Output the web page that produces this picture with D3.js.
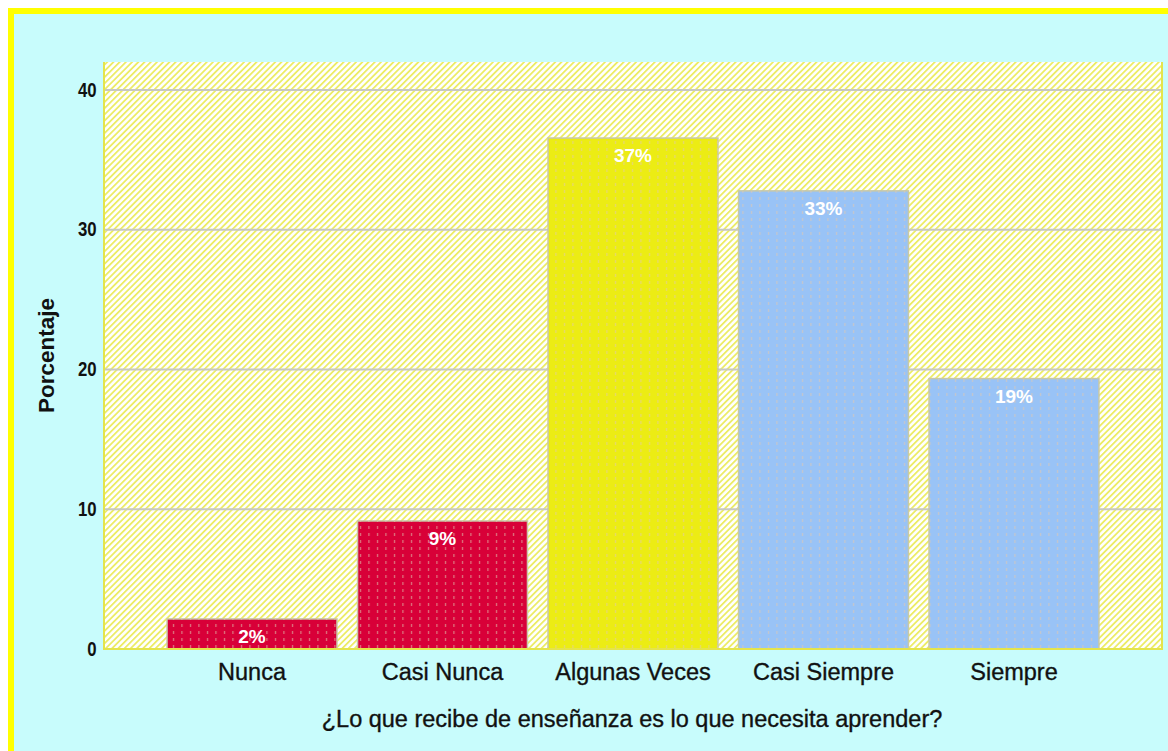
<!DOCTYPE html>
<html>
<head>
<meta charset="utf-8">
<script src="https://cdn.jsdelivr.net/npm/d3@7"></script>
<style>
  body { margin: 0; background: #fff; }
  svg { display: block; }
</style>
</head>
<body>
<svg id="chart"></svg>
<script>
// Data
const categories = ["Nunca", "Casi Nunca", "Algunas Veces", "Casi Siempre", "Siempre"];
const percentages = [2.15, 9.16, 36.56, 32.78, 19.35];
const barLabels = ["2%", "9%", "37%", "33%", "19%"];
const barColors = ["#d80038", "#d80038", "#ecec14", "#99c3f6", "#99c3f6"];
const yTicks = [0, 10, 20, 30, 40];

const width = 1168;
const height = 751;
const plot = { left: 104, right: 1162, top: 62, bottom: 649 };

const svg = d3.select("#chart")
    .attr("width", width)
    .attr("height", height);

// Patterns: diagonal hatching for the plot area and dotted marks on bars
const defs = svg.append("defs");
const hatch = defs.append("pattern")
    .attr("id", "hatch")
    .attr("patternUnits", "userSpaceOnUse")
    .attr("width", 4.4)
    .attr("height", 4.4)
    .attr("patternTransform", "rotate(45)");
hatch.append("rect").attr("width", 4.4).attr("height", 4.4).attr("fill", "#ffffff");
hatch.append("rect").attr("x", 0).attr("width", 1.8).attr("height", 4.4).attr("fill", "#ecec66");

const dots = defs.append("pattern")
    .attr("id", "dots")
    .attr("patternUnits", "userSpaceOnUse")
    .attr("width", 8.5)
    .attr("height", 7);
dots.append("rect")
    .attr("x", 3).attr("y", 1)
    .attr("width", 1).attr("height", 3)
    .attr("fill", "#e0c8b0")
    .attr("opacity", 0.75);

// Background and frame
svg.append("rect")
    .attr("x", 11).attr("y", 11)
    .attr("width", width + 20).attr("height", height + 20)
    .attr("fill", "#c8fcfc")
    .attr("stroke", "#ffff00")
    .attr("stroke-width", 6);

// Scales
const x = d3.scaleBand()
    .domain(categories)
    .range([plot.left, plot.right])
    .paddingInner(0.108)
    .paddingOuter(0.331);

const y = d3.scaleLinear()
    .domain([0, 42])
    .range([plot.bottom, plot.top]);

// Plot area
svg.append("rect")
    .attr("x", plot.left)
    .attr("y", plot.top)
    .attr("width", plot.right - plot.left)
    .attr("height", plot.bottom - plot.top)
    .attr("fill", "url(#hatch)");

// Grid lines
svg.append("g")
    .selectAll("line")
    .data(yTicks.filter(d => d > 0))
    .enter()
    .append("line")
    .attr("x1", plot.left)
    .attr("x2", plot.right)
    .attr("y1", d => y(d))
    .attr("y2", d => y(d))
    .attr("stroke", "#c8c8c0")
    .attr("stroke-width", 2);

// Bars
const bars = svg.append("g")
    .selectAll("g")
    .data(categories)
    .enter()
    .append("g");

bars.append("rect")
    .attr("x", d => x(d))
    .attr("y", (d, i) => y(percentages[i]))
    .attr("width", x.bandwidth())
    .attr("height", (d, i) => y(0) - y(percentages[i]))
    .attr("fill", (d, i) => barColors[i])
    .attr("stroke", "#c8c8a8")
    .attr("stroke-width", 1.5);

bars.append("rect")
    .attr("x", d => x(d))
    .attr("y", (d, i) => y(percentages[i]))
    .attr("width", x.bandwidth())
    .attr("height", (d, i) => y(0) - y(percentages[i]))
    .attr("fill", "url(#dots)");

bars.append("text")
    .attr("x", d => x(d) + x.bandwidth() / 2)
    .attr("y", (d, i) => y(percentages[i]) + 24)
    .attr("text-anchor", "middle")
    .attr("font-family", "Liberation Sans, Arial, sans-serif")
    .attr("font-weight", "bold")
    .attr("font-size", 19)
    .attr("fill", "#ffffff")
    .text((d, i) => barLabels[i]);

// Plot border (left, bottom, right)
svg.append("path")
    .attr("d", `M${plot.left},${plot.top}V${plot.bottom}H${plot.right}V${plot.top}`)
    .attr("fill", "none")
    .attr("stroke", "#e4e44c")
    .attr("stroke-width", 2);

// Y axis tick labels (condensed bold)
const yAxis = svg.append("g")
    .attr("transform", `translate(${plot.left},0)`)
    .call(d3.axisLeft(y).tickValues(yTicks).tickSize(0).tickPadding(0));
yAxis.select(".domain").remove();
yAxis.selectAll("text")
    .attr("x", -8.5)
    .attr("transform", "scale(0.86,1)")
    .attr("font-family", "Liberation Sans, Arial, sans-serif")
    .attr("font-weight", "bold")
    .attr("font-size", 19.5)
    .attr("fill", "#111");

// X axis category labels
const xAxis = svg.append("g")
    .attr("transform", `translate(0,${plot.bottom})`)
    .call(d3.axisBottom(x).tickSize(0).tickPadding(14));
xAxis.select(".domain").remove();
xAxis.selectAll("text")
    .attr("font-family", "Liberation Sans, Arial, sans-serif")
    .attr("font-size", 23.5)
    .attr("fill", "#111")
    .attr("stroke", "#111")
    .attr("stroke-width", 0.35);

// Axis titles
svg.append("text")
    .attr("x", (plot.left + plot.right) / 2 - 1)
    .attr("y", 727)
    .attr("text-anchor", "middle")
    .attr("font-family", "Liberation Sans, Arial, sans-serif")
    .attr("font-size", 23.5)
    .attr("fill", "#111")
    .attr("stroke", "#111")
    .attr("stroke-width", 0.35)
    .text("¿Lo que recibe de enseñanza es lo que necesita aprender?");

svg.append("text")
    .attr("transform", `translate(54,${(plot.top + plot.bottom) / 2}) rotate(-90)`)
    .attr("text-anchor", "middle")
    .attr("font-family", "Liberation Sans, Arial, sans-serif")
    .attr("font-weight", "bold")
    .attr("font-size", 22.5)
    .attr("fill", "#111")
    .text("Porcentaje");
</script>
</body>
</html>
